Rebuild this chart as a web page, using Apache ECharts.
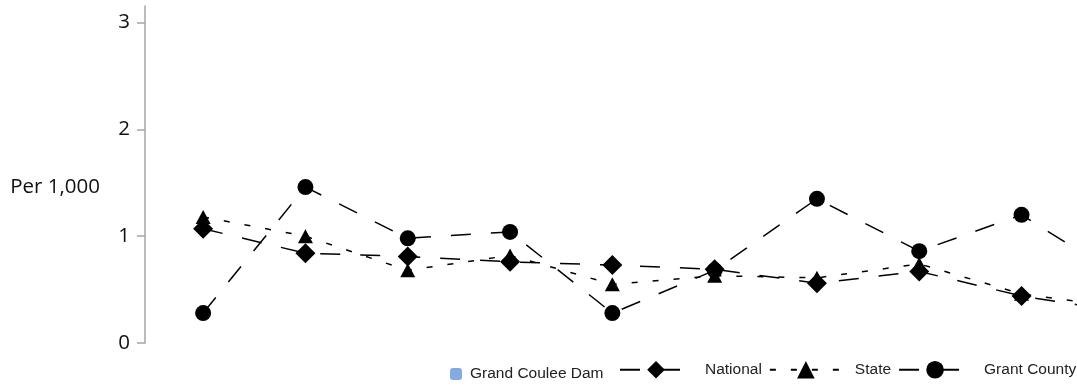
<!DOCTYPE html>
<html><head><meta charset="utf-8">
<script src="https://cdn.jsdelivr.net/npm/echarts@6/dist/echarts.min.js"></script>
<style>html,body{margin:0;padding:0;background:#fff}#c{width:1077px;height:386px}</style>
</head><body><div id="c"></div>
<script>
const categories = ['P1','P2','P3','P4','P5','P6','P7','P8','P9','P10'];
const grandCouleeDam = [null,null,null,null,null,null,null,null,null,null];
const national = [1.07, 0.84, 0.81, 0.76, 0.73, 0.69, 0.56, 0.67, 0.44, 0.29];
const state = [1.18, 1.00, 0.68, 0.82, 0.55, 0.63, 0.61, 0.74, 0.46, 0.33];
const grantCounty = [0.28, 1.46, 0.98, 1.04, 0.28, 0.68, 1.35, 0.86, 1.20, 0.60];
const yTicks = [0, 1, 2, 3];
const yName = 'Per 1,000';

// index-based x positions (category i -> i), so the last category can fall past the right edge
const toPairs = (arr) => arr.map((v, i) => [i, v]);

const chart = echarts.init(document.getElementById('c'), null, {renderer: 'canvas'});
const legendFont = {fontFamily: 'Liberation Sans, Arial, sans-serif', fontSize: 15.5, color: '#222'};
chart.setOption({
  animation: false,
  backgroundColor: '#fff',
  grid: {left: 152, right: 0, top: 6, bottom: 43},
  xAxis: {
    type: 'value', min: -0.5, max: -0.5 + 925 / 102.3,
    axisLine: {show: false}, axisTick: {show: false}, axisLabel: {show: false}, splitLine: {show: false}
  },
  yAxis: {
    type: 'value', min: 0, max: 3.155, offset: 7,
    name: yName, nameLocation: 'middle', nameRotate: 0, nameGap: 45,
    nameTextStyle: {fontFamily: 'Open Sans, sans-serif', fontSize: 20.5, color: '#111', align: 'right', verticalAlign: 'top', padding: [2, 0, 0, 0]},
    axisLine: {show: true, onZero: false, lineStyle: {color: '#a6a6a6', width: 1.5}},
    axisTick: {show: true, length: 8, lineStyle: {color: '#a6a6a6', width: 1.5}, customValues: yTicks},
    axisLabel: {show: true, margin: 15, fontFamily: 'Open Sans, sans-serif', fontSize: 20.5, color: '#111', customValues: yTicks},
    splitLine: {show: false}
  },
  legend: [
    {
      data: ['Grand Coulee Dam'], left: 450, top: 366, padding: 0, itemWidth: 12, itemHeight: 12,
      textStyle: Object.assign({padding: [0, 0, 0, 3]}, legendFont), selectedMode: false
    },
    {
      data: ['National', 'State', 'Grant County'], left: 619, top: 361, padding: 0, width: 520, itemWidth: 72, itemHeight: 22,
      itemGap: 7, textStyle: Object.assign({padding: [0, 0, 0, 8]}, legendFont), selectedMode: false
    }
  ],
  series: [
    {name: 'Grand Coulee Dam', type: 'bar', data: toPairs(grandCouleeDam), itemStyle: {color: '#84aadf'}},
    {name: 'National', type: 'line', data: toPairs(national), symbol: 'diamond', symbolSize: 20,
      itemStyle: {color: '#000'}, lineStyle: {color: '#000', width: 1.5, type: [20, 20]}},
    {name: 'State', type: 'line', data: toPairs(state), symbol: 'triangle', symbolSize: [15, 14],
      itemStyle: {color: '#000'}, lineStyle: {color: '#000', width: 1.5, type: [6, 15]}},
    {name: 'Grant County', type: 'line', data: toPairs(grantCounty), symbol: 'circle', symbolSize: 16,
      itemStyle: {color: '#000'}, lineStyle: {color: '#000', width: 1.5, type: [20, 20]}}
  ]
});
</script></body></html>
